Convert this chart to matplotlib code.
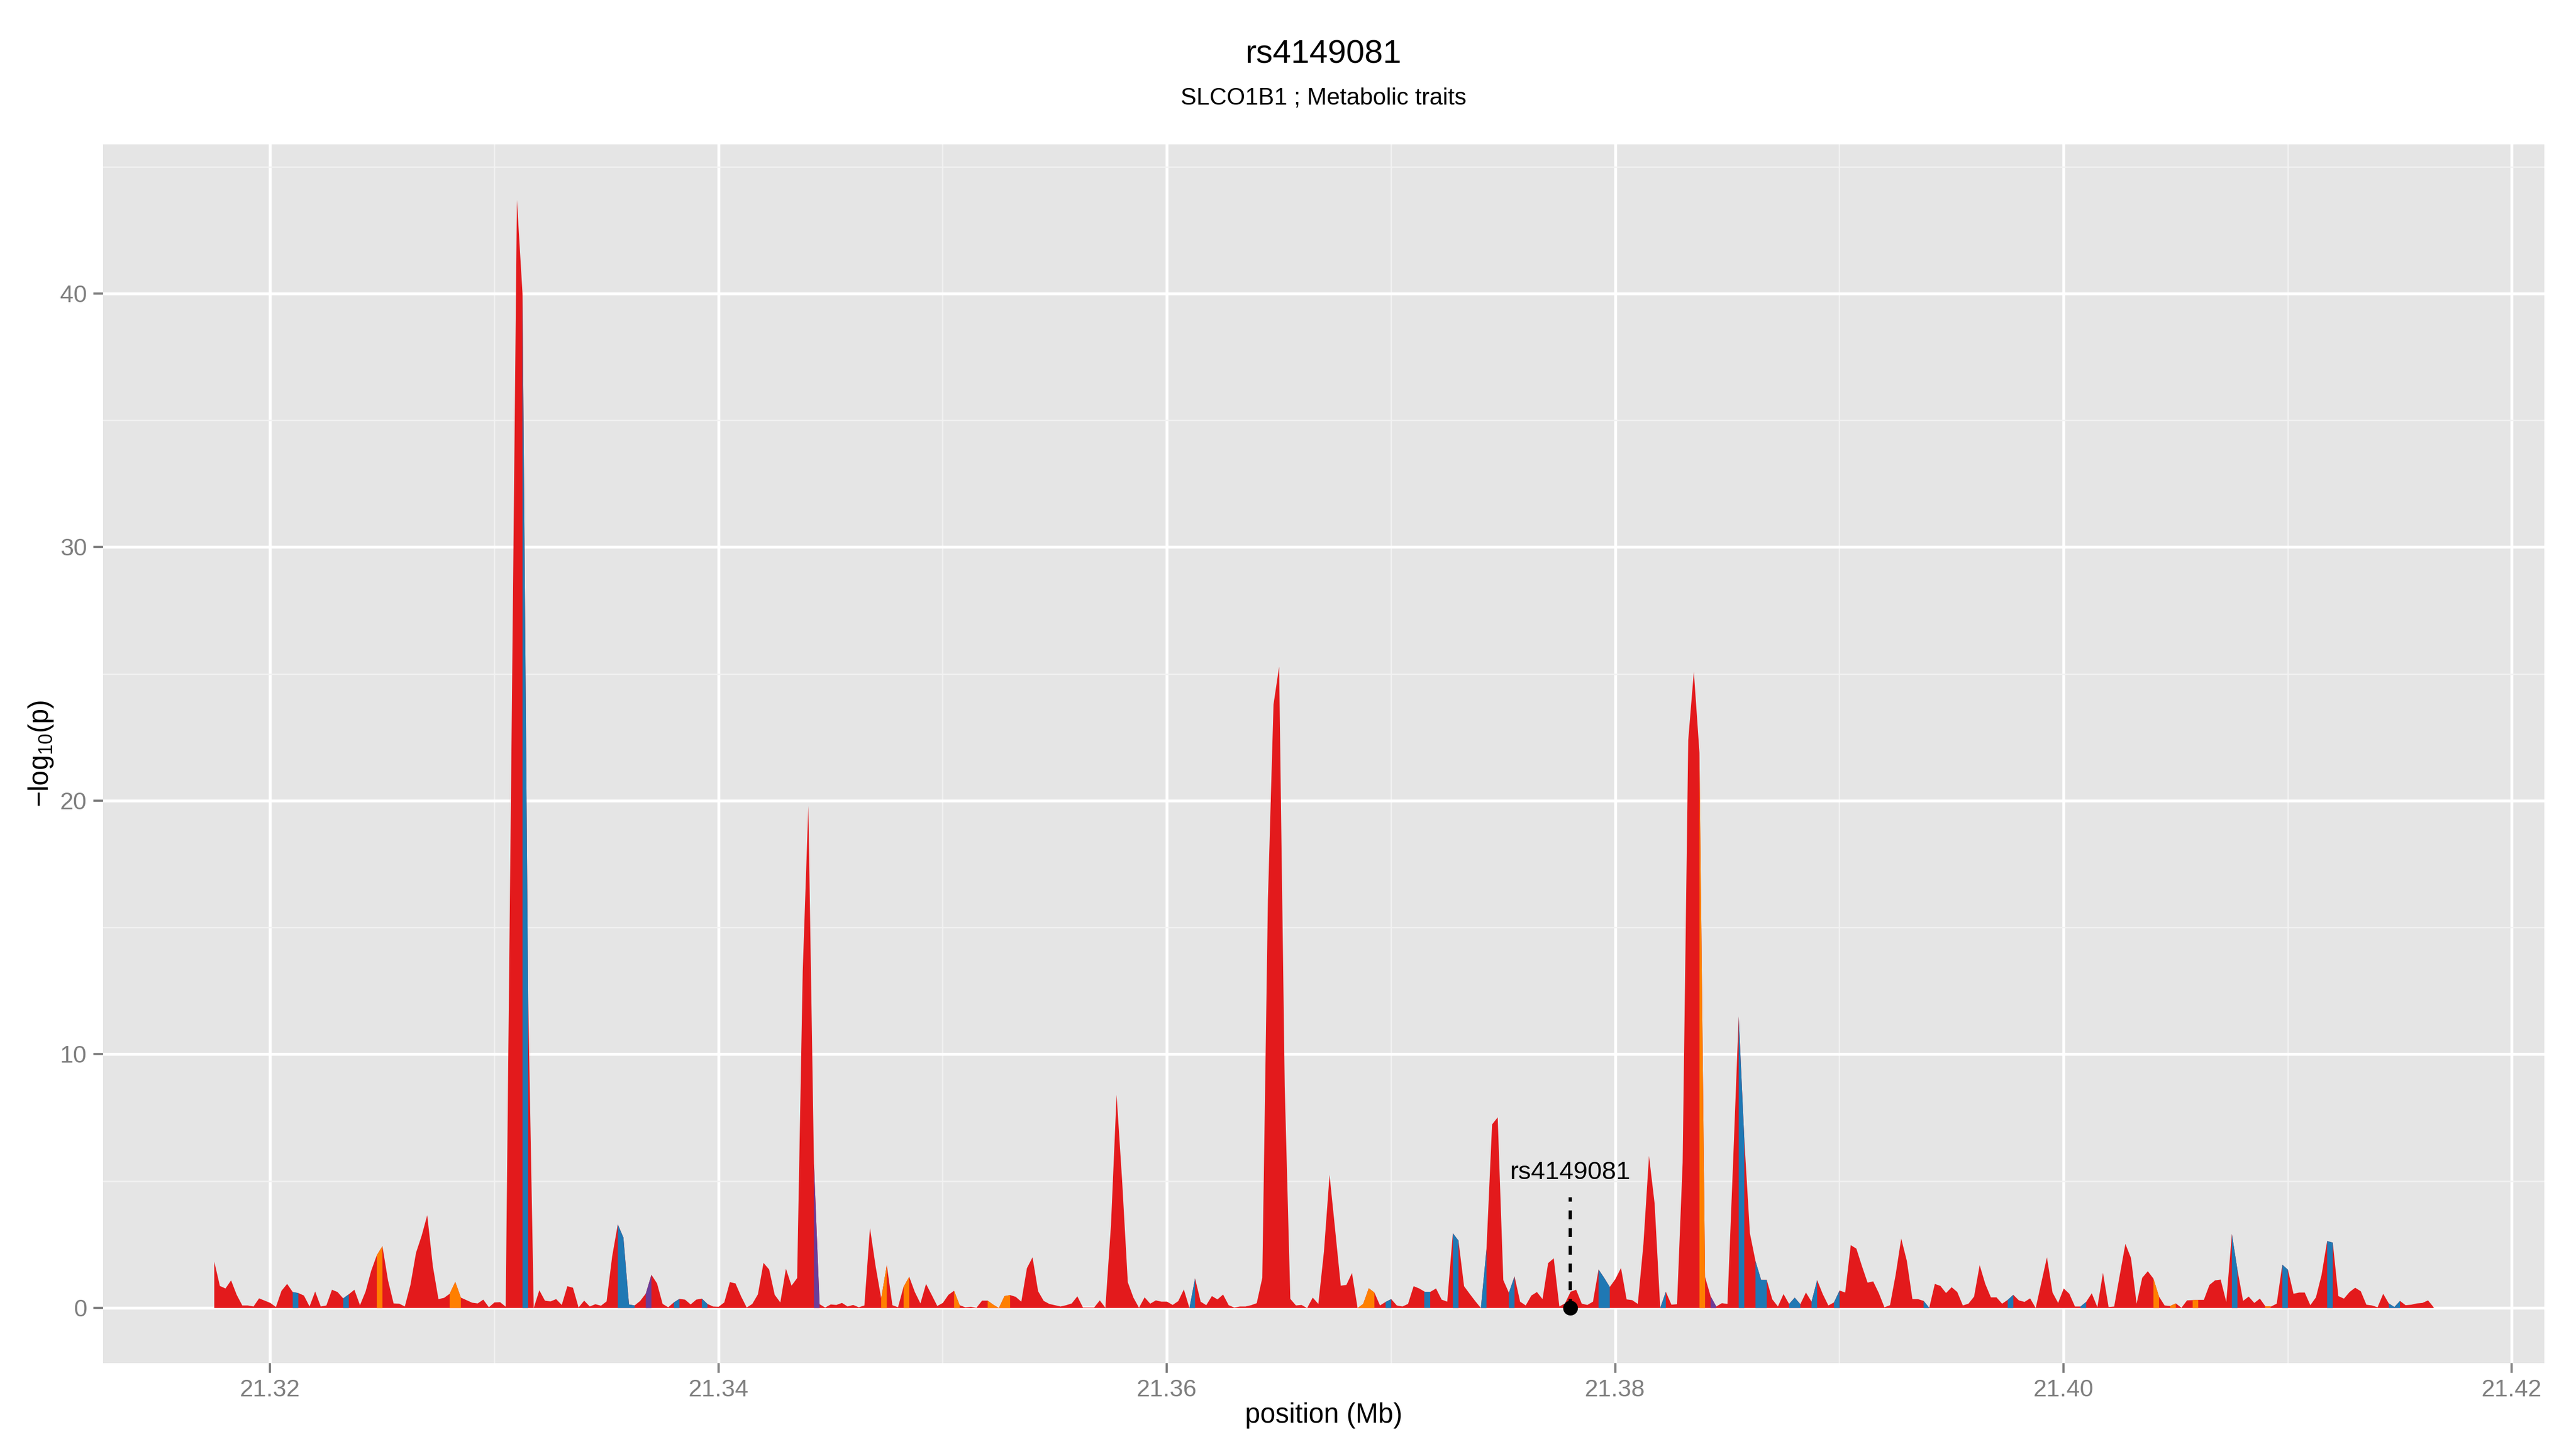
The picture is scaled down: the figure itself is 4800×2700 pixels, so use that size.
import numpy as np
import matplotlib
matplotlib.use("Agg")
import matplotlib.pyplot as plt
from matplotlib.ticker import FormatStrFormatter

plt.rcParams['font.family'] = ['Liberation Sans', 'DejaVu Sans']
plt.rcParams['mathtext.fontset'] = 'custom'
plt.rcParams['mathtext.rm'] = 'Liberation Sans'
plt.rcParams['mathtext.it'] = 'Liberation Sans:italic'

# ---------------- data ----------------
title = "rs4149081"
subtitle = "SLCO1B1 ; Metabolic traits"
snp_label = "rs4149081"
snp_position = 21.37801
snp_label_y = 5.08
snp_segment_top = 4.36

bin_start_mb = 21.3175
bin_width_mb = 0.00025

neglog10p = [
    1.83, 0.87, 0.77, 1.09, 0.52, 0.10, 0.10, 0.06, 0.38, 0.29,
    0.20, 0.04, 0.68, 0.95, 0.63, 0.59, 0.49, 0.06, 0.65, 0.06,
    0.10, 0.72, 0.63, 0.38, 0.54, 0.72, 0.11, 0.65, 1.47, 2.08,
    2.44, 1.09, 0.18, 0.17, 0.06, 0.91, 2.18, 2.85, 3.66, 1.65,
    0.35, 0.40, 0.56, 1.03, 0.41, 0.31, 0.21, 0.18, 0.33, 0.03,
    0.22, 0.23, 0.05, 21.5, 43.7, 40.0, 12.3, 0.00, 0.70, 0.29,
    0.26, 0.35, 0.12, 0.86, 0.80, 0.02, 0.29, 0.06, 0.15, 0.09,
    0.26, 2.04, 3.30, 2.78, 0.14, 0.10, 0.28, 0.57, 1.31, 0.97,
    0.16, 0.03, 0.22, 0.36, 0.33, 0.14, 0.33, 0.37, 0.16, 0.06,
    0.05, 0.22, 1.02, 0.97, 0.46, 0.02, 0.16, 0.54, 1.78, 1.52,
    0.52, 0.22, 1.55, 0.88, 1.18, 13.3, 19.8, 5.70, 0.15, 0.02,
    0.14, 0.12, 0.20, 0.06, 0.12, 0.03, 0.10, 3.15, 1.65, 0.38,
    1.69, 0.11, 0.03, 0.84, 1.23, 0.63, 0.18, 0.95, 0.52, 0.08,
    0.20, 0.52, 0.68, 0.11, 0.03, 0.05, 0.01, 0.29, 0.29, 0.13,
    0.00, 0.47, 0.51, 0.44, 0.25, 1.57, 2.00, 0.66, 0.28, 0.16,
    0.11, 0.06, 0.11, 0.18, 0.46, 0.02, 0.02, 0.02, 0.30, 0.01,
    3.27, 8.41, 4.97, 1.02, 0.41, 0.01, 0.42, 0.17, 0.30, 0.25,
    0.25, 0.12, 0.27, 0.73, 0.00, 1.17, 0.25, 0.11, 0.47, 0.34,
    0.53, 0.11, 0.02, 0.06, 0.06, 0.11, 0.19, 1.19, 16.1, 23.8,
    25.3, 8.75, 0.36, 0.10, 0.12, 0.00, 0.41, 0.16, 2.23, 5.25,
    3.08, 0.88, 0.91, 1.38, 0.00, 0.16, 0.78, 0.61, 0.10, 0.24,
    0.35, 0.10, 0.06, 0.16, 0.86, 0.77, 0.64, 0.64, 0.77, 0.33,
    0.25, 2.95, 2.66, 0.86, 0.56, 0.27, 0.00, 2.32, 7.24, 7.52,
    1.10, 0.60, 1.25, 0.25, 0.10, 0.49, 0.63, 0.35, 1.77, 1.96,
    0.06, 0.18, 0.64, 0.72, 0.17, 0.12, 0.25, 1.52, 1.19, 0.83,
    1.14, 1.58, 0.34, 0.31, 0.16, 2.51, 6.00, 4.12, 0.00, 0.64,
    0.13, 0.15, 5.73, 22.4, 25.1, 21.9, 1.22, 0.46, 0.06, 0.19,
    0.16, 5.73, 11.5, 6.67, 2.95, 1.85, 1.11, 1.11, 0.34, 0.06,
    0.55, 0.16, 0.41, 0.15, 0.61, 0.25, 1.10, 0.55, 0.10, 0.22,
    0.69, 0.61, 2.48, 2.34, 1.65, 1.00, 1.05, 0.59, 0.03, 0.11,
    1.30, 2.74, 1.86, 0.35, 0.35, 0.28, 0.01, 0.95, 0.87, 0.59,
    0.82, 0.63, 0.10, 0.17, 0.45, 1.69, 0.95, 0.42, 0.42, 0.17,
    0.32, 0.52, 0.30, 0.24, 0.38, 0.00, 1.00, 2.00, 0.61, 0.20,
    0.77, 0.56, 0.06, 0.06, 0.24, 0.58, 0.03, 1.39, 0.04, 0.06,
    1.30, 2.53, 1.97, 0.17, 1.19, 1.45, 1.16, 0.45, 0.10, 0.08,
    0.18, 0.01, 0.30, 0.31, 0.32, 0.32, 0.91, 1.09, 1.12, 0.24,
    2.92, 1.50, 0.28, 0.45, 0.20, 0.37, 0.06, 0.06, 0.17, 1.71,
    1.51, 0.56, 0.61, 0.61, 0.11, 0.42, 1.30, 2.64, 2.58, 0.47,
    0.37, 0.63, 0.80, 0.66, 0.13, 0.10, 0.03, 0.56, 0.18, 0.04,
    0.28, 0.11, 0.13, 0.18, 0.20, 0.30, 0.03,
]

# start index of segments (bin i -> bin i+1) that are not in the default class
blue_segments = [14, 23, 55, 72, 73, 74, 82, 87, 174, 209, 216, 221, 226, 231,
                 247, 248, 258, 272, 275, 276, 281, 282, 285, 289, 305, 320,
                 333, 360, 369, 377, 388, 389]
orange_segments = [29, 42, 43, 119, 123, 132, 138, 139, 140, 141, 204, 205,
                   206, 265, 346, 349, 353, 366]
purple_segments = [77, 107, 267]

x_major_ticks = [21.32, 21.34, 21.36, 21.38, 21.40, 21.42]
x_minor_ticks = [21.33, 21.35, 21.37, 21.39, 21.41]
y_major_ticks = [0, 10, 20, 30, 40]
y_minor_ticks = [5, 15, 25, 35, 45]

# ---------------- styling ----------------
RED = "#E31A1C"
BLUE = "#1F78B4"
ORANGE = "#FF7F00"
PURPLE = "#6A3D9A"
PANEL_BG = "#E5E5E5"
GREY50 = "#7F7F7F"

values = np.asarray(neglog10p, dtype=float)
positions = bin_start_mb + bin_width_mb * np.arange(len(values))

W, H = 4800, 2700
fig = plt.figure(figsize=(16, 9), dpi=300)
px_left, px_right, px_top, px_bottom = 192, 4741, 269, 2540
ax = fig.add_axes([px_left / W, 1 - px_bottom / H,
                   (px_right - px_left) / W, (px_bottom - px_top) / H])
ax.set_facecolor(PANEL_BG)
for s in ax.spines.values():
    s.set_visible(False)

# limits with ggplot-like 5% expansion
xr = positions.max() - positions.min()
ax.set_xlim(positions.min() - 0.05 * xr, positions.max() + 0.05 * xr)
yr = values.max() - 0.0
ax.set_ylim(0 - 0.05 * yr, values.max() + 0.05 * yr)

ax.set_xticks(x_major_ticks)
ax.set_xticks(x_minor_ticks, minor=True)
ax.set_yticks(y_major_ticks)
ax.set_yticks(y_minor_ticks, minor=True)
ax.xaxis.set_major_formatter(FormatStrFormatter('%.2f'))
ax.set_axisbelow(True)
ax.grid(which='major', color='white', linewidth=1.3)
ax.grid(which='minor', color='#F2F2F2', linewidth=0.6)
ax.tick_params(which='major', length=4.4, width=1.0, color=GREY50,
               labelcolor=GREY50, labelsize=10.8, pad=2.8)
ax.tick_params(which='minor', length=0)

# base area (default class)
ax.fill_between(positions, 0, values, color=RED, linewidth=0, zorder=2)


def runs(idx):
    idx = sorted(idx)
    out = []
    start = prev = idx[0]
    for k in idx[1:]:
        if k == prev + 1:
            prev = k
            continue
        out.append((start, prev))
        start = prev = k
    out.append((start, prev))
    return out


for segs, col in ((blue_segments, BLUE), (orange_segments, ORANGE),
                  (purple_segments, PURPLE)):
    for a, b in runs(segs):
        ax.fill_between(positions[a:b + 2], 0, values[a:b + 2], color=col,
                        linewidth=0, zorder=3)

# SNP annotation
ax.plot([snp_position, snp_position], [0, snp_segment_top], color='black',
        linewidth=1.5, linestyle=(0, (2.64, 2.64)), zorder=5)
ax.plot([snp_position], [0], 'o', color='black', markersize=5.6, zorder=6)
ax.text(snp_position, snp_label_y, snp_label, ha='center', va='baseline',
        fontsize=11.4, color='black', zorder=6)

# titles
cx = ((px_left + px_right) / 2) / W
fig.text(cx, 1 - 118 / H, title, ha='center', va='baseline', fontsize=14.8)
fig.text(cx, 1 - 195 / H, subtitle, ha='center', va='baseline', fontsize=10.6)

# axis titles
ax.set_xlabel("position (Mb)", fontsize=12.2, va='baseline')
ax.xaxis.set_label_coords(0.5, -(2651 - px_bottom) / (px_bottom - px_top))
ax.set_ylabel("\u2212log$_{10}$(p)", fontsize=12.2, va='baseline')
ax.yaxis.set_label_coords(-(px_left - 90) / (px_right - px_left), 0.5)

fig.savefig("out.png", dpi=300, facecolor='white')
